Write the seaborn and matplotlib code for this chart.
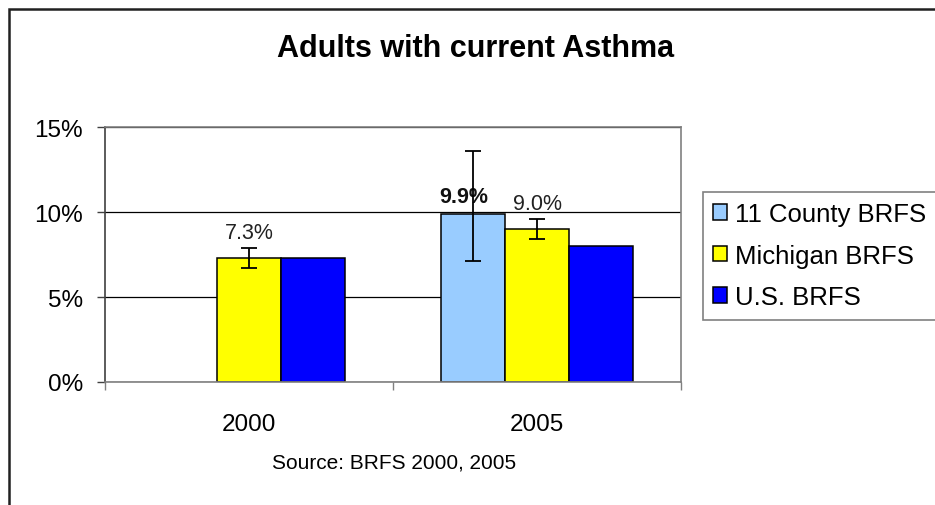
import pandas as pd
import numpy as np
import seaborn as sns
import matplotlib.pyplot as plt
from matplotlib.patches import Rectangle

# data
years = ["2000", "2005"]
series = ["11 County BRFS", "Michigan BRFS", "U.S. BRFS"]
county_vals = [np.nan, 9.9]
michigan_vals = [7.3, 9.0]
us_vals = [7.3, 8.0]
county_ci = [(np.nan, np.nan), (7.1, 13.6)]
michigan_ci = [(6.7, 7.9), (8.4, 9.6)]
colors = ["#99CCFF", "#FFFF00", "#0000FF"]
yticks = [0, 5, 10, 15]

df = pd.DataFrame({
    "year": years * 3,
    "series": [s for s in series for _ in years],
    "value": county_vals + michigan_vals + us_vals,
})

sns.set_theme(style="white")
plt.rcParams["font.family"] = ["Liberation Sans", "DejaVu Sans"]
plt.rcParams["text.color"] = "black"
plt.rcParams["xtick.labelcolor"] = "black"
plt.rcParams["ytick.labelcolor"] = "black"

fig = plt.figure(figsize=(9.35, 5.06), dpi=100)
ax = fig.add_axes([0.1123, 0.2431, 0.6161, 0.5039])

sns.barplot(data=df, x="year", y="value", hue="series", order=years,
            hue_order=series, palette=colors, width=0.666, gap=0,
            edgecolor="black", linewidth=1.1, saturation=1, ax=ax)

# bar centres per (series, year index), from the drawn containers
centres = {}
for cont, name in zip(ax.containers, series):
    for p in cont.patches:
        xc = p.get_x() + p.get_width() / 2
        centres[(name, int(round(xc)))] = xc

# error bars
for name, vals, ci in [("11 County BRFS", county_vals, county_ci),
                       ("Michigan BRFS", michigan_vals, michigan_ci)]:
    for i, (v, (lo, hi)) in enumerate(zip(vals, ci)):
        if np.isnan(v):
            continue
        ax.errorbar(centres[(name, i)], v, yerr=[[v - lo], [hi - v]],
                    fmt="none", ecolor="black", elinewidth=1.3,
                    capsize=5.5, capthick=1.3, zorder=5)

# value labels
ax.annotate("7.3%", (centres[("Michigan BRFS", 0)], michigan_ci[0][1]),
            xytext=(0, 7), textcoords="offset points", ha="center",
            va="baseline", fontsize=15.5, color="#222222")
ax.annotate("9.9%", (centres[("11 County BRFS", 1)], county_vals[1]),
            xytext=(-7, 8.5), textcoords="offset points", ha="center",
            va="baseline", fontsize=15.5, fontweight="bold", color="#111111")
ax.annotate("9.0%", (centres[("Michigan BRFS", 1)], michigan_ci[1][1]),
            xytext=(0, 7), textcoords="offset points", ha="center",
            va="baseline", fontsize=15.5, color="#222222")

# axes styling
ax.set_ylim(0, 15)
ax.set_xlim(-0.5, 1.5)
ax.set_yticks(yticks)
ax.set_yticklabels([f"{t}%" for t in yticks], fontsize=17.5)
ax.yaxis.grid(True, color="black", linewidth=0.9)
ax.set_axisbelow(True)
ax.set_xlabel("")
ax.set_ylabel("")
ax.tick_params(axis="y", left=True, length=6, width=1, color="#404040",
               pad=10, labelcolor="black")
ax.tick_params(axis="x", which="major", length=0, pad=22, labelsize=17.5,
               labelcolor="black")
ax.set_xticks([-0.5, 0.5, 1.5], minor=True)
ax.tick_params(axis="x", which="minor", bottom=True, length=6, width=1,
               color="#808080")
for side in ["top", "right", "bottom"]:
    ax.spines[side].set_visible(True)
    ax.spines[side].set_color("#808080")
    ax.spines[side].set_linewidth(1.2)
ax.spines["left"].set_color("#404040")
ax.spines["left"].set_linewidth(1.2)

# legend
handles, labels = ax.get_legend_handles_labels()
ax.legend(handles, labels, loc="upper left",
          bbox_to_anchor=(703 / 935, 1 - 193 / 506),
          bbox_transform=fig.transFigure, frameon=True, fancybox=False,
          edgecolor="#606060", fontsize=18.5, handlelength=0.55,
          handleheight=0.55, handletextpad=0.3, labelspacing=0.68,
          borderpad=0.4, borderaxespad=0)
ax.get_legend().get_frame().set_linewidth(1.2)

fig.text(476 / 935, 1 - 49 / 506, "Adults with current Asthma",
         ha="center", va="center", fontsize=22, fontweight="bold",
         color="black")
fig.text(394 / 935, 1 - 463 / 506, "Source: BRFS 2000, 2005",
         ha="center", va="center", fontsize=15, color="black")

# chart border (extends past the right and bottom edges)
fig.patches.append(Rectangle((9 / 935, -0.1), 1.2, 1 - 10 / 506 + 0.1,
                             transform=fig.transFigure, fill=False,
                             edgecolor="#202020", linewidth=1.8))

fig.savefig("out.png", dpi=100)
